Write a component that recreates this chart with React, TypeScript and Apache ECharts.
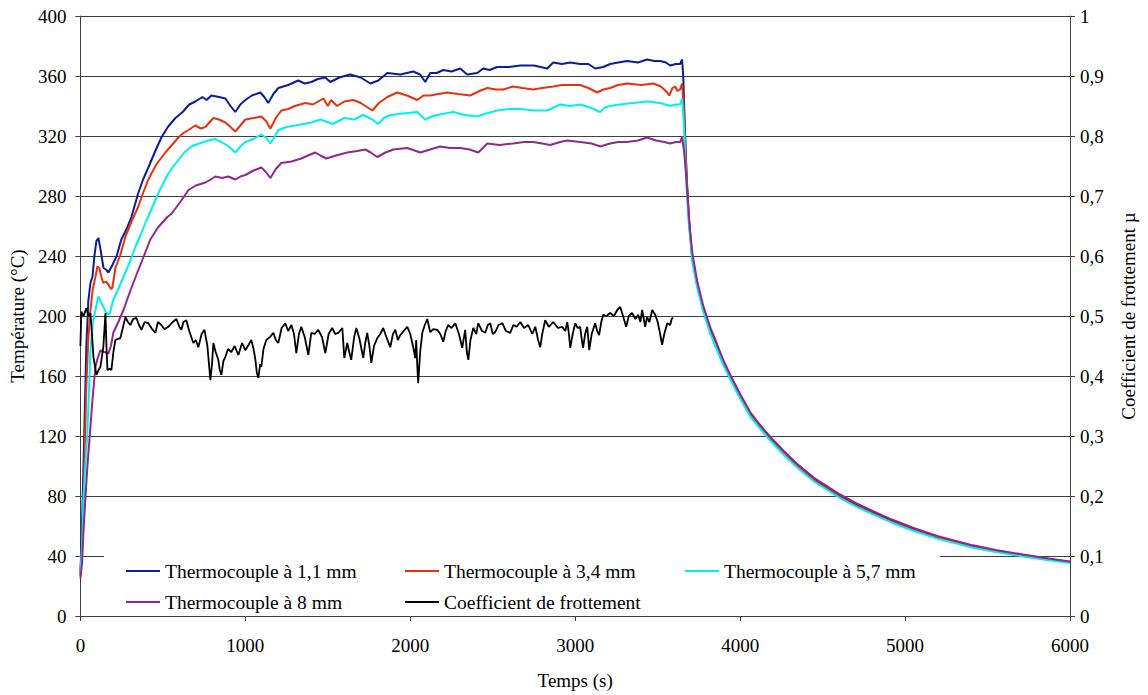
import React, { useEffect, useRef } from 'react';
import * as echarts from 'echarts';

const xTicks = [0, 1000, 2000, 3000, 4000, 5000, 6000];
const leftTicks = [0, 40, 80, 120, 160, 200, 240, 280, 320, 360, 400];
const rightTicks = [0, 0.1, 0.2, 0.3, 0.4, 0.5, 0.6, 0.7, 0.8, 0.9, 1];

const seriesNames = [
  'Thermocouple à 1,1 mm',
  'Thermocouple à 3,4 mm',
  'Thermocouple à 5,7 mm',
  'Thermocouple à 8 mm',
  'Coefficient de frottement',
];

// heating phase (t in s, temperature in °C)
const heat11: [number, number][] = [
  [0, 27], [12, 70], [24, 124], [36, 180], [48, 210], [61, 222], [73, 226], [85, 240], [97, 250], [109, 252], [121, 245], [140, 232], [155, 231], [170, 229], [194, 234], [220, 240], [248, 251], [280, 258], [309, 266], [330, 274], [351, 282], [380, 291], [412, 299], [450, 309], [491, 319], [530, 326], [576, 332], [620, 336], [660, 341], [697, 343], [740, 346], [765, 344], [794, 347], [840, 346], [879, 345], [910, 340], [939, 336], [970, 341], [1000, 344], [1040, 347], [1091, 349], [1115, 346], [1139, 342], [1170, 348], [1200, 352], [1260, 354], [1321, 357], [1360, 355], [1400, 356], [1440, 358], [1485, 359], [1515, 356], [1570, 359], [1636, 361], [1700, 359], [1758, 355], [1806, 357], [1861, 362], [1940, 361], [2018, 363], [2060, 361], [2091, 356], [2121, 362], [2160, 362], [2200, 364], [2250, 363], [2303, 365], [2345, 361], [2406, 362], [2442, 365], [2480, 364], [2527, 366], [2600, 366], [2667, 367], [2750, 367], [2830, 365], [2867, 369], [2920, 368], [2970, 369], [3030, 368], [3080, 368], [3121, 365], [3170, 366], [3212, 368], [3260, 369], [3315, 370], [3380, 369], [3436, 371], [3480, 370], [3515, 370], [3550, 369], [3576, 367], [3610, 368], [3636, 368], [3648, 371], [3655, 360], [3665, 325], [3675, 295], [3685, 272],
];
const heat34: [number, number][] = [
  [0, 28], [10, 50], [18, 73], [27, 115], [36, 153], [48, 185], [61, 204], [75, 218], [91, 226], [103, 233], [115, 232], [127, 226], [139, 222], [155, 223], [170, 221], [185, 218], [194, 219], [212, 232], [240, 240], [273, 253], [310, 263], [351, 273], [380, 282], [412, 291], [460, 301], [515, 309], [555, 314], [594, 319], [625, 322], [655, 324], [697, 327], [730, 325], [758, 326], [806, 332], [840, 331], [879, 329], [910, 326], [939, 323], [970, 327], [1000, 331], [1050, 332], [1097, 333], [1125, 330], [1152, 325], [1185, 332], [1218, 337], [1260, 338], [1300, 340], [1364, 342], [1410, 341], [1473, 345], [1500, 340], [1520, 344], [1556, 340], [1600, 343], [1655, 344], [1700, 342], [1770, 337], [1810, 342], [1861, 346], [1921, 349], [1980, 347], [2042, 344], [2080, 347], [2121, 347], [2170, 348], [2224, 349], [2290, 348], [2364, 347], [2420, 350], [2467, 352], [2520, 351], [2564, 351], [2624, 353], [2680, 352], [2745, 351], [2800, 352], [2867, 353], [2920, 354], [2970, 354], [3030, 354], [3080, 352], [3133, 349], [3170, 351], [3212, 352], [3260, 354], [3315, 355], [3400, 354], [3473, 355], [3520, 353], [3558, 349], [3570, 347], [3590, 352], [3606, 353], [3620, 350], [3636, 351], [3648, 355], [3658, 340], [3668, 312], [3678, 288], [3688, 268],
];
const heat57: [number, number][] = [
  [0, 27], [10, 45], [18, 77], [30, 100], [42, 122], [52, 150], [61, 177], [75, 195], [91, 204], [109, 213], [122, 210], [139, 206], [158, 202], [176, 201], [200, 211], [230, 218], [261, 226], [300, 236], [333, 246], [365, 254], [394, 262], [430, 271], [473, 282], [505, 289], [533, 295], [565, 300], [594, 304], [630, 309], [673, 313], [720, 315], [776, 317], [815, 318], [855, 316], [900, 313], [939, 309], [970, 313], [1000, 316], [1050, 318], [1097, 321], [1125, 319], [1152, 315], [1180, 320], [1200, 324], [1250, 326], [1303, 327], [1350, 328], [1400, 329], [1455, 331], [1530, 328], [1600, 332], [1660, 331], [1715, 334], [1770, 331], [1806, 328], [1840, 332], [1879, 334], [1960, 335], [2042, 336], [2091, 331], [2130, 333], [2164, 334], [2210, 335], [2261, 336], [2330, 334], [2406, 333], [2460, 335], [2527, 337], [2600, 338], [2667, 338], [2750, 337], [2830, 337], [2909, 341], [2970, 340], [3030, 341], [3090, 339], [3152, 336], [3180, 339], [3212, 340], [3270, 341], [3350, 342], [3436, 343], [3515, 342], [3576, 340], [3610, 341], [3636, 341], [3648, 345], [3658, 330], [3668, 302], [3678, 280], [3688, 262],
];
const heat8: [number, number][] = [
  [0, 25], [10, 35], [18, 55], [30, 78], [42, 99], [58, 122], [73, 144], [91, 166], [105, 172], [121, 177], [145, 176], [170, 175], [185, 180], [200, 189], [230, 196], [261, 204], [300, 216], [345, 229], [385, 240], [424, 251], [470, 259], [527, 266], [551, 268], [606, 276], [655, 284], [700, 287], [758, 289], [790, 291], [818, 293], [860, 292], [897, 293], [939, 291], [970, 293], [1000, 294], [1050, 297], [1097, 299], [1125, 296], [1152, 292], [1185, 298], [1218, 302], [1280, 303], [1339, 305], [1380, 307], [1424, 309], [1455, 307], [1491, 305], [1550, 307], [1618, 309], [1680, 310], [1727, 311], [1760, 309], [1800, 306], [1850, 309], [1897, 311], [1982, 312], [2061, 309], [2120, 311], [2182, 313], [2240, 312], [2303, 312], [2360, 311], [2412, 309], [2440, 312], [2467, 315], [2540, 314], [2624, 315], [2690, 316], [2745, 316], [2800, 315], [2848, 314], [2909, 316], [2952, 317], [3030, 316], [3100, 315], [3152, 313], [3212, 315], [3260, 316], [3315, 316], [3380, 317], [3436, 319], [3490, 317], [3540, 316], [3576, 315], [3610, 316], [3636, 316], [3648, 319], [3660, 310], [3672, 295], [3684, 276], [3690, 266],
];

// cooling phase
const coolTimes = [3695, 3710, 3740, 3776, 3820, 3861, 3900, 3939, 4000, 4061, 4120, 4182, 4260, 4345, 4450, 4606, 4700, 4806, 4920, 5048, 5200, 5412, 5550, 5715, 5850, 6000];
const cool11 = [257, 239, 221, 205, 190, 179, 169, 160, 147, 135, 126.5, 118.5, 109.5, 100.5, 91, 80, 74.5, 69, 63.5, 58, 52.5, 46.5, 43.5, 40.5, 38.3, 36];
const cool34 = [256, 238, 220, 204, 189, 178, 168, 159, 146, 134, 125.8, 117.8, 108.8, 99.8, 90.3, 79.3, 73.8, 68.3, 62.8, 57.4, 52, 46, 43, 40.1, 37.9, 35.7];
const cool57 = [255, 236, 219, 203, 188, 177, 167, 158, 145, 133, 125, 117, 108, 99, 89.5, 78.6, 73.1, 67.7, 62.2, 56.8, 51.4, 45.5, 42.6, 39.7, 37.5, 35.4];
const cool8 = [259, 242, 223, 207, 192, 181, 170, 161, 148, 136, 127.5, 119.5, 110.5, 101.5, 92, 81, 75.4, 69.9, 64.3, 58.8, 53.2, 47.1, 44, 41, 38.7, 36.3];

// friction coefficient (right axis)
const friction: [number, number][] = [
  [0, 0.45], [6, 0.507], [20, 0.5], [36, 0.513], [50, 0.5], [61, 0.505], [70, 0.47], [79, 0.432], [97, 0.402], [110, 0.41], [121, 0.415], [139, 0.448], [152, 0.505], [158, 0.45], [164, 0.41], [176, 0.412], [188, 0.41], [200, 0.44], [212, 0.46], [242, 0.463], [273, 0.498], [288, 0.49], [303, 0.485], [320, 0.495], [339, 0.497], [355, 0.485], [370, 0.477], [390, 0.49], [412, 0.488], [435, 0.478], [455, 0.472], [470, 0.49], [491, 0.485], [510, 0.478], [533, 0.482], [560, 0.49], [582, 0.495], [600, 0.482], [612, 0.477], [625, 0.49], [642, 0.493], [660, 0.475], [685, 0.455], [700, 0.46], [715, 0.448], [735, 0.47], [752, 0.477], [770, 0.45], [788, 0.393], [798, 0.42], [806, 0.455], [820, 0.44], [836, 0.427], [845, 0.41], [855, 0.402], [867, 0.425], [879, 0.432], [895, 0.445], [915, 0.44], [935, 0.45], [958, 0.435], [980, 0.455], [1000, 0.443], [1020, 0.452], [1036, 0.46], [1050, 0.445], [1061, 0.427], [1070, 0.405], [1079, 0.397], [1090, 0.42], [1097, 0.415], [1110, 0.445], [1127, 0.46], [1150, 0.465], [1170, 0.472], [1185, 0.46], [1200, 0.455], [1220, 0.48], [1242, 0.488], [1260, 0.475], [1279, 0.485], [1295, 0.47], [1309, 0.438], [1325, 0.47], [1339, 0.482], [1360, 0.465], [1382, 0.435], [1400, 0.472], [1420, 0.47], [1442, 0.477], [1465, 0.465], [1485, 0.438], [1505, 0.47], [1527, 0.48], [1545, 0.47], [1564, 0.472], [1588, 0.48], [1600, 0.43], [1618, 0.455], [1630, 0.44], [1642, 0.427], [1660, 0.465], [1673, 0.48], [1691, 0.463], [1715, 0.43], [1727, 0.455], [1739, 0.472], [1752, 0.45], [1764, 0.422], [1780, 0.45], [1800, 0.463], [1818, 0.47], [1836, 0.48], [1855, 0.465], [1879, 0.448], [1895, 0.47], [1909, 0.477], [1925, 0.46], [1939, 0.468], [1960, 0.475], [1982, 0.482], [2000, 0.47], [2018, 0.448], [2030, 0.43], [2036, 0.46], [2042, 0.42], [2048, 0.388], [2060, 0.44], [2073, 0.472], [2088, 0.485], [2103, 0.495], [2121, 0.473], [2140, 0.478], [2164, 0.477], [2182, 0.47], [2200, 0.457], [2215, 0.475], [2230, 0.485], [2250, 0.48], [2273, 0.488], [2295, 0.47], [2315, 0.447], [2333, 0.477], [2343, 0.44], [2352, 0.427], [2365, 0.46], [2382, 0.48], [2400, 0.47], [2412, 0.488], [2435, 0.475], [2455, 0.472], [2470, 0.485], [2485, 0.488], [2500, 0.47], [2515, 0.473], [2535, 0.485], [2558, 0.488], [2580, 0.475], [2606, 0.472], [2625, 0.485], [2645, 0.482], [2667, 0.49], [2690, 0.48], [2715, 0.485], [2740, 0.47], [2758, 0.482], [2775, 0.46], [2788, 0.448], [2800, 0.47], [2818, 0.493], [2840, 0.482], [2867, 0.49], [2895, 0.48], [2921, 0.482], [2940, 0.475], [2952, 0.49], [2962, 0.47], [2970, 0.447], [2985, 0.47], [3000, 0.488], [3015, 0.48], [3030, 0.482], [3040, 0.46], [3048, 0.447], [3060, 0.47], [3073, 0.482], [3080, 0.46], [3085, 0.443], [3100, 0.47], [3121, 0.488], [3133, 0.475], [3145, 0.468], [3158, 0.49], [3170, 0.502], [3190, 0.5], [3212, 0.505], [3235, 0.5], [3255, 0.51], [3273, 0.515], [3290, 0.5], [3309, 0.482], [3325, 0.5], [3345, 0.505], [3365, 0.495], [3382, 0.502], [3395, 0.49], [3406, 0.51], [3416, 0.495], [3424, 0.482], [3436, 0.498], [3450, 0.49], [3467, 0.51], [3485, 0.502], [3500, 0.49], [3515, 0.47], [3527, 0.452], [3540, 0.47], [3558, 0.488], [3576, 0.485], [3585, 0.495], [3594, 0.497],
];

const colors = ['#0A1E96', '#E8320E', '#00F0F0', '#92278F', '#000000'];

const FONT = "'Liberation Serif', 'DejaVu Serif', serif";

function joinCooling(heat: [number, number][], cool: number[]): [number, number][] {
  return heat.concat(coolTimes.map((t, i) => [t, cool[i]] as [number, number]));
}

export default function App() {
  const ref = useRef<HTMLDivElement>(null);
  useEffect(() => {
    const chart = echarts.init(ref.current!, null, { renderer: 'svg' });
    const temps = [
      joinCooling(heat11, cool11),
      joinCooling(heat34, cool34),
      joinCooling(heat57, cool57),
      joinCooling(heat8, cool8),
    ];
    const textStyle = { fontFamily: FONT, fontSize: 19, color: '#000' };
    const axisLine = { show: true, lineStyle: { color: '#404040', width: 1 } };
    const legendBase = {
      orient: 'vertical' as const,
      top: 561,
      itemGap: 11,
      itemWidth: 34,
      itemHeight: 19,
      padding: 0,
      icon: 'path://M0,0L34,0L34,2L0,2Z',
      textStyle: { ...textStyle, fontSize: 19.5 },
    };
    chart.setOption({
      animation: false,
      backgroundColor: '#fff',
      textStyle: { fontFamily: FONT },
      grid: { left: 80, right: 78, top: 16, bottom: 79, containLabel: false },
      graphic: [
        {
          type: 'rect',
          z: 1,
          shape: { x: 104, y: 546, width: 836, height: 68 },
          style: { fill: '#fff' },
        },
      ],
      legend: [
        { ...legendBase, left: 126, data: [seriesNames[0], seriesNames[3]] },
        { ...legendBase, left: 405, data: [seriesNames[1], seriesNames[4]] },
        { ...legendBase, left: 685, data: [seriesNames[2]] },
      ],
      xAxis: {
        type: 'value',
        min: xTicks[0],
        max: xTicks[xTicks.length - 1],
        interval: 1000,
        name: 'Temps (s)',
        nameLocation: 'middle',
        nameGap: 55,
        nameTextStyle: { ...textStyle },
        axisLine,
        axisTick: { show: true, inside: false, length: 5, lineStyle: { color: '#404040' } },
        axisLabel: { ...textStyle, margin: 20, formatter: (v: number) => String(v) },
        splitLine: { show: false },
      },
      yAxis: [
        {
          type: 'value',
          min: leftTicks[0],
          max: leftTicks[leftTicks.length - 1],
          interval: 40,
          name: 'Température (°C)',
          nameLocation: 'middle',
          nameGap: 53,
          nameTextStyle: { ...textStyle },
          axisLine,
          axisTick: { show: true, inside: false, length: 5, lineStyle: { color: '#404040' } },
          axisLabel: { ...textStyle, margin: 14, formatter: (v: number) => String(v) },
          splitLine: { show: true, lineStyle: { color: '#404040', width: 1 } },
        },
        {
          type: 'value',
          position: 'right',
          min: rightTicks[0],
          max: rightTicks[rightTicks.length - 1],
          interval: 0.1,
          name: 'Coefficient de frottement µ',
          nameLocation: 'middle',
          nameGap: 49,
          nameTextStyle: { ...textStyle },
          axisLine,
          axisTick: { show: true, inside: false, length: 5, lineStyle: { color: '#404040' } },
          axisLabel: {
            ...textStyle,
            margin: 10,
            formatter: (v: number) => String(Math.round(v * 10) / 10).replace('.', ','),
          },
          splitLine: { show: false },
        },
      ],
      series: [
        ...temps.map((d, i) => ({
          name: seriesNames[i],
          type: 'line',
          yAxisIndex: 0,
          data: d,
          symbol: 'none',
          lineStyle: { color: colors[i], width: 2 },
          itemStyle: { color: colors[i] },
          z: 2,
        })),
        {
          name: seriesNames[4],
          type: 'line',
          yAxisIndex: 1,
          data: friction,
          symbol: 'none',
          lineStyle: { color: colors[4], width: 1.8 },
          itemStyle: { color: colors[4] },
          z: 3,
        },
      ],
    });
    return () => chart.dispose();
  }, []);
  return (
    <div
      ref={ref}
      style={{ position: 'fixed', left: 0, top: 0, width: 1148, height: 695, background: '#fff' }}
    />
  );
}
